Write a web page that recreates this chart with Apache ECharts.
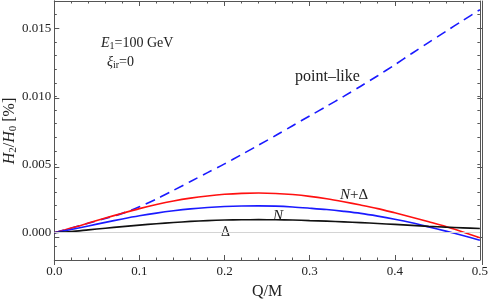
<!DOCTYPE html>
<html>
<head>
<meta charset="utf-8">
<script src="https://cdn.jsdelivr.net/npm/echarts@6/dist/echarts.min.js"></script>
<style>html,body{margin:0;padding:0;background:#fff}#c{width:491px;height:305px}</style>
</head>
<body>
<div id="c"></div>
<script>
// Q/M sample points
var qm = [0,0.02,0.04,0.06,0.08,0.10,0.12,0.14,0.16,0.18,0.20,0.22,0.24,0.26,0.28,0.30,0.32,0.34,0.36,0.38,0.40,0.42,0.44,0.46,0.48,0.50];
// point-like (dashed blue)
var pointLike = [0,0.00034,0.00070,0.00105,0.00142,0.00190,0.00247,0.00311,0.00376,0.00441,0.00505,0.00573,0.00643,0.00713,0.00785,0.00857,0.00928,0.01000,0.01075,0.01152,0.01232,0.01315,0.01397,0.01477,0.01557,0.01636];
// N + Delta (red)
var nPlusDelta = [0,0.00034,0.00071,0.00108,0.00143,0.00177,0.00207,0.00233,0.00254,0.00270,0.00282,0.00289,0.00291,0.00288,0.00280,0.00267,0.00249,0.00227,0.00203,0.00177,0.00146,0.00114,0.00080,0.00045,0.00005,-0.00036];
// N (blue)
var nOnly = [0,0.00024,0.00050,0.00076,0.00101,0.00124,0.00144,0.00161,0.00175,0.00185,0.00192,0.00196,0.00197,0.00195,0.00189,0.00180,0.00170,0.00157,0.00142,0.00122,0.00099,0.00073,0.00043,0.00012,-0.00021,-0.00055];
// Delta (black)
var deltaOnly = [0,0.00009,0.00021,0.00033,0.00045,0.00056,0.00066,0.00075,0.00083,0.00089,0.00093,0.00095,0.00096,0.00095,0.00093,0.00089,0.00085,0.00080,0.00074,0.00068,0.00061,0.00054,0.00047,0.00041,0.00036,0.00031];
var yMajor = [0,0.005,0.010,0.015];

function pairs(v){ return qm.map(function(q,i){ return [q, v[i]]; }); }

var FONT = 'Liberation Serif';
var frame = '#555';
var gridBox = {left: 54.3, right: 8.7, top: 1, bottom: 40.4};

var chart = echarts.init(document.getElementById('c'), null, {renderer:'canvas'});

function xAx(grid, pos, labels){
  return {
    type:'value', gridIndex:grid, position:pos, min:0, max:0.5, interval:0.1,
    axisLine:{show:true, onZero:false, lineStyle:{color:frame, width:1}},
    axisTick:{show:true, inside:true, length:5, lineStyle:{color:frame}},
    minorTick:{show:true, splitNumber:5, length:2.5, lineStyle:{color:frame}},
    axisLabel:{show:labels, margin:5, fontFamily:FONT, fontSize:13, color:'#222',
      formatter:function(v){return v.toFixed(1);}},
    splitLine:{show:false}, minorSplitLine:{show:false}
  };
}
function yAx(grid, pos, labels, major){
  var o = {
    type:'value', gridIndex:grid, position:pos, min:-0.002, max:0.017, interval:0.001,
    axisLine:{show:true, onZero:false, lineStyle:{color:frame, width:1}},
    axisTick:{show:true, inside:true, length: major?5:2.5, lineStyle:{color:frame}},
    axisLabel:{show:labels, margin:3, fontFamily:FONT, fontSize:13, color:'#222',
      formatter:function(v){return v.toFixed(3);}},
    splitLine:{show:false}
  };
  if (major) { o.axisTick.customValues = yMajor; }
  if (labels) { o.axisLabel.customValues = yMajor; }
  return o;
}

var xa0 = xAx(0,'bottom',true);
xa0.name = 'Q/M'; xa0.nameLocation='middle'; xa0.nameGap=24;
xa0.nameTextStyle = {fontFamily:FONT, fontSize:16, color:'#222'};

var option = {
  animation:false,
  backgroundColor:'#fff',
  grid:[Object.assign({}, gridBox), Object.assign({}, gridBox)],
  xAxis:[xa0, xAx(0,'top',false),
         {type:'value', gridIndex:1, min:0, max:0.5, show:false, axisLine:{onZero:false}}],
  yAxis:[yAx(0,'left',true,false), yAx(0,'right',false,false), yAx(1,'left',false,true), yAx(1,'right',false,true)],
  series:[
    {type:'line', xAxisIndex:0, yAxisIndex:0, data:pairs(pointLike), smooth:0.3, showSymbol:false,
     lineStyle:{color:'#1a1aff', width:1.6, type:[10,6]},
     markLine:{silent:true, symbol:'none', label:{show:false}, lineStyle:{color:'#d4d4d4', width:1, type:'solid'}, data:[{yAxis:0}]}},
    {type:'line', xAxisIndex:0, yAxisIndex:0, data:pairs(nPlusDelta), smooth:0.3, showSymbol:false,
     lineStyle:{color:'#ff1010', width:1.6}},
    {type:'line', xAxisIndex:0, yAxisIndex:0, data:pairs(nOnly), smooth:0.3, showSymbol:false,
     lineStyle:{color:'#1a1aff', width:1.6}},
    {type:'line', xAxisIndex:0, yAxisIndex:0, data:pairs(deltaOnly), smooth:0.3, showSymbol:false,
     lineStyle:{color:'#111', width:1.6}}
  ],
  graphic:[
    {type:'text', x:10, y:131, rotation:Math.PI/2, style:{
      text:'{i|H}{s|2}{t|/}{i|H}{s|0}{t| [%]}', align:'center', verticalAlign:'middle',
      rich:{i:{fontFamily:FONT, fontSize:16, fontStyle:'italic', fill:'#222'},
            t:{fontFamily:FONT, fontSize:16, fill:'#222'},
            s:{fontFamily:FONT, fontSize:11, fill:'#222', padding:[7,0,0,0]}}}},
    {type:'text', x:101, y:43, style:{
      text:'{i|E}{s|1}{t|=100 GeV}', align:'left', verticalAlign:'middle',
      rich:{i:{fontFamily:FONT, fontSize:14, fontStyle:'italic', fill:'#222'},
            t:{fontFamily:FONT, fontSize:14, fill:'#222'},
            s:{fontFamily:FONT, fontSize:10, fill:'#222', padding:[7,0,0,0]}}}},
    {type:'text', x:107, y:62, style:{
      text:'{i|ξ}{s|ir}{t|=0}', align:'left', verticalAlign:'middle',
      rich:{i:{fontFamily:FONT, fontSize:14, fontStyle:'italic', fill:'#222'},
            t:{fontFamily:FONT, fontSize:14, fill:'#222'},
            s:{fontFamily:FONT, fontSize:10, fill:'#222', padding:[7,0,0,0]}}}},
    {type:'text', x:295, y:77, style:{text:'point\u2013like', align:'left', verticalAlign:'middle',
      fontFamily:FONT, fontSize:16, fill:'#222'}},
    {type:'text', x:340, y:195, style:{
      text:'{i|N}{t|+Δ}', align:'left', verticalAlign:'middle',
      rich:{i:{fontFamily:FONT, fontSize:15, fontStyle:'italic', fill:'#222'},
            t:{fontFamily:FONT, fontSize:15, fill:'#222'}}}},
    {type:'text', x:273, y:216, style:{text:'N', align:'left', verticalAlign:'middle',
      fontFamily:FONT, fontSize:15, fontStyle:'italic', fill:'#222'}},
    {type:'text', x:221, y:232, style:{text:'Δ', align:'left', verticalAlign:'middle',
      fontFamily:FONT, fontSize:14, fill:'#222'}}
  ]
};
chart.setOption(option);
</script>
</body>
</html>
